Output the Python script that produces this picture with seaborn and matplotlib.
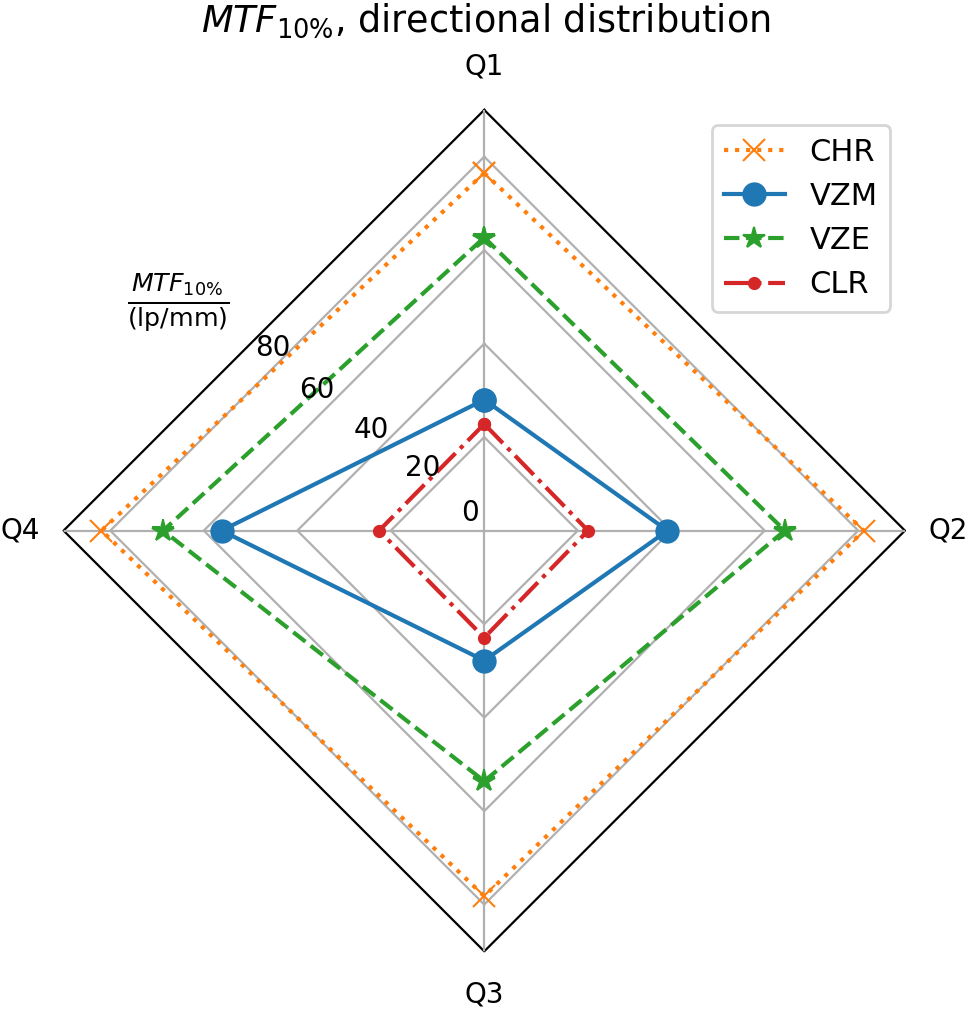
import numpy as np
import pandas as pd
import matplotlib
matplotlib.use("Agg")
import matplotlib.pyplot as plt
import seaborn as sns

# directions, clockwise from the top
quadrants = ["Q1", "Q2", "Q3", "Q4"]

# MTF10% values in lp/mm, one per quadrant (Q1..Q4)
chr_vals = [76.5, 81.2, 78.2, 81.9]
vzm_vals = [28.0, 39.2, 27.8, 56.2]
vze_vals = [62.7, 64.3, 53.6, 68.7]
clr_vals = [22.8, 22.2, 22.9, 22.5]

series_names = ["CHR", "VZM", "VZE", "CLR"]
rings = [20, 40, 60, 80]
r_ticks = [0, 20, 40, 60, 80]
r_max = 90

styles = {
    "CHR": dict(color="tab:orange", linestyle=":", marker="x"),
    "VZM": dict(color="tab:blue", linestyle="-", marker="o"),
    "VZE": dict(color="tab:green", linestyle="--", marker="*"),
    "CLR": dict(color="tab:red", linestyle="-.", marker="."),
}

theta = np.linspace(0, 2 * np.pi, len(quadrants), endpoint=False)
theta_closed = np.append(theta, 2 * np.pi)

fig = plt.figure(figsize=(4.845, 5.055), dpi=200)
ax = fig.add_axes([0.0656, 0.059, 0.8683, 0.8323], projection="polar")
ax.set_theta_offset(np.pi / 2)
ax.set_theta_direction(-1)

# polygon grid + frame instead of circles
for v in rings:
    ax.plot(theta_closed, [v] * len(theta_closed), color="#b0b0b0", lw=0.8, zorder=1)
ax.plot(theta_closed, [r_max] * len(theta_closed), color="black", lw=0.8, clip_on=False, zorder=1)
ax.spines["polar"].set_visible(False)
ax.yaxis.grid(False)

data = {"CHR": chr_vals, "VZM": vzm_vals, "VZE": vze_vals, "CLR": clr_vals}
for name in series_names:
    vals = data[name]
    st = styles[name]
    df = pd.DataFrame({"theta": theta_closed, "r": vals + vals[:1]})
    sns.lineplot(data=df, x="theta", y="r", ax=ax, sort=False, estimator=None,
                 lw=1.5, markersize=8, mec=st["color"], mfc=st["color"],
                 label=name, zorder=3, **st)

ax.set_ylim(0, r_max)
ax.set_yticks(r_ticks)
ax.set_yticklabels([])
ax.set_xticks(theta)
ax.set_xticklabels(quadrants, fontsize=10)
ax.tick_params(axis="x", pad=5)
ax.set_xlabel("")
ax.set_ylabel("")

# radial labels sit along the Q1-Q4 edge
lab_theta = [320, 315.6, 311.8, 310.1, 310.7]
lab_r = [4.9, 18.7, 32.3, 46.7, 59.8]
for t, rr, v in zip(lab_theta, lab_r, r_ticks):
    ax.text(np.deg2rad(t), rr, str(v), ha="center", va="center", fontsize=10)

fig.text(178 / 969, 1 - 303 / 1011, r"$\frac{MTF_{10\%}}{\mathrm{(lp/mm)}}$",
         ha="center", va="center", fontsize=13)
fig.text(0.5015, 1 - 21 / 1011, r"$MTF_{10\%}$, directional distribution",
         ha="center", va="center", fontsize=13.2)

ax.legend(loc="upper right", bbox_to_anchor=(905 / 969, 1 - 110 / 1011),
          bbox_transform=fig.transFigure, fontsize=11)

fig.savefig("out.png", dpi=200)
